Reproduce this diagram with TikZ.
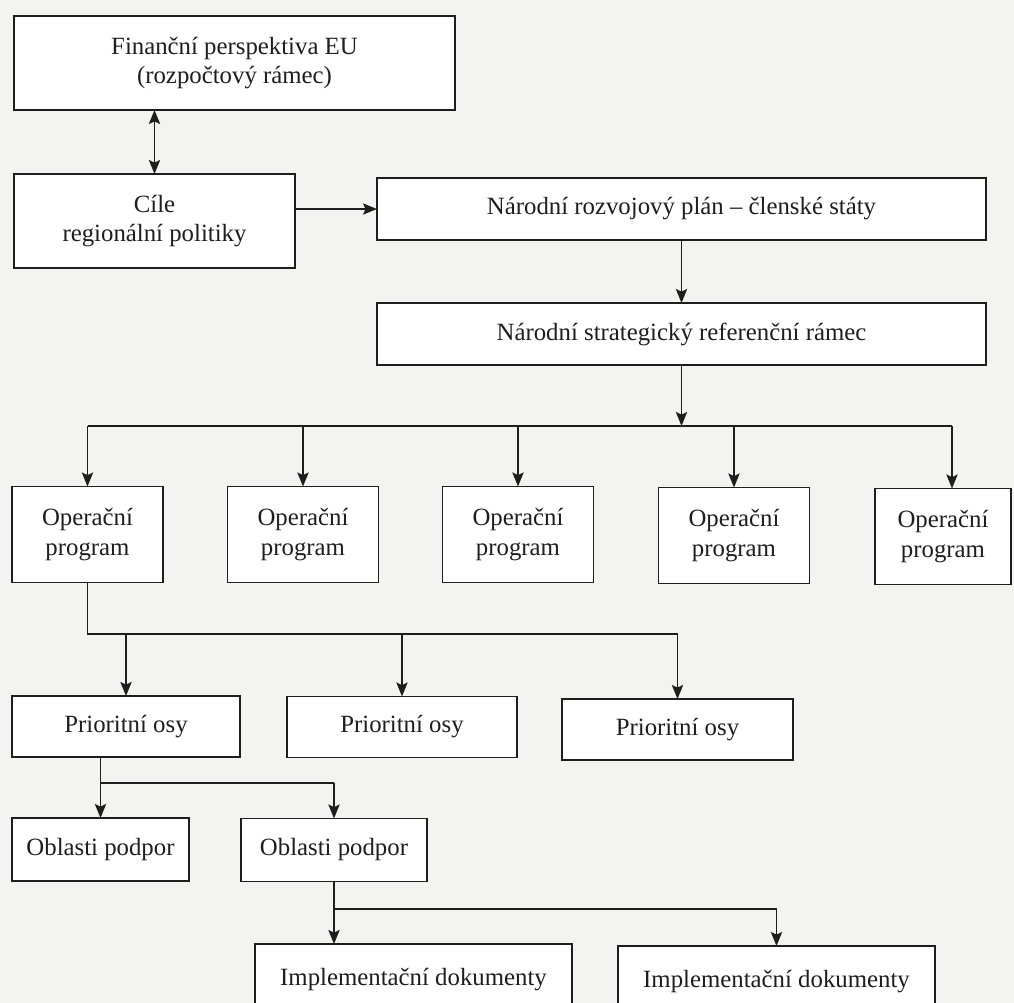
\documentclass[tikz,border=0pt]{standalone}
\usepackage{fontspec}
\setmainfont{Liberation Serif}
\usetikzlibrary{arrows.meta}

\definecolor{ink}{HTML}{1E1E1E}
\definecolor{paper}{HTML}{F3F3F1}

\begin{document}
\begin{tikzpicture}[x=0.5pt,y=-0.5pt,
		wh/.style 2 args={minimum width=#1*0.5pt, minimum height=#2*0.5pt}]
		\tikzstyle {box} = [draw=ink, fill=white, line width=0.95pt, inner sep=0pt, outer sep=0pt,
			align=center, text=ink, font=\fontsize{12.4}{14.8}\selectfont]
		\tikzstyle {link} = [draw=ink, line width=0.95pt, >={Stealth[length=7pt,width=5.6pt,inset=1.3pt]}]

		% page
		\fill[paper] (0,0) rectangle (1014,1003);
		\useasboundingbox (0,0) rectangle (1014,1003);
		\clip (0,0) rectangle (1014,1003);

		% EU level
		\node[box, wh={441}{94}] (fin) at (234.5,63) {Finanční perspektiva EU\\(rozpočtový rámec)};
		\node[box, wh={281}{94}] (cile) at (154.5,221) {Cíle\\regionální politiky};

		% national level
		\node[box, wh={609}{62}] (nrp) at (681.5,209) {Národní rozvojový plán – členské státy};
		\node[box, wh={609}{62}] (nsrr) at (681.5,334) {Národní strategický referenční rámec};

		% operational programmes
		\node[box, wh={151}{96}] (op1) at (87.5,534.5) {Operační\\program};
		\node[box, wh={151}{96}] (op2) at (303,534.5) {Operační\\program};
		\node[box, wh={151}{96}] (op3) at (518,534.5) {Operační\\program};
		\node[box, wh={151}{96}] (op4) at (734,535.5) {Operační\\program};
		\node[box, wh={136}{96}] (op5) at (943,536.5) {Operační\\program};

		% priority axes
		\node[box, wh={228}{61}] (po1) at (126,726.5) {Prioritní osy};
		\node[box, wh={230}{61}] (po2) at (402,727) {Prioritní osy};
		\node[box, wh={231}{61}] (po3) at (677.5,729.5) {Prioritní osy};

		% support areas
		\node[box, wh={177}{63}] (ob1) at (100.5,849.5) {Oblasti podpor};
		\node[box, wh={186}{63}] (ob2) at (334,850) {Oblasti podpor};

		% implementation documents
		\node[box, wh={317}{72}] (im1) at (413.5,980) {Implementační dokumenty};
		\node[box, wh={317}{72}] (im2) at (776.5,982) {Implementační dokumenty};

		\draw[link, <->] (cile.north) -- (cile.north |- fin.south);
		\draw[link, ->] (cile.east |- nrp.west) -- (nrp.west);
		\draw[link, ->] (nrp.south) -- (nsrr.north);

		\coordinate (bus1) at (681.5,426);
		\coordinate (bus1r) at (952,426);
		\draw[link, ->] (nsrr.south) -- (bus1);
		\draw[link] (op1.north |- bus1) -- (bus1r);
		\draw[link, ->] (op1.north |- bus1) -- (op1.north);
		\draw[link, ->] (op2.north |- bus1) -- (op2.north);
		\draw[link, ->] (op3.north |- bus1) -- (op3.north);
		\draw[link, ->] (op4.north |- bus1) -- (op4.north);
		\draw[link, ->] (bus1r) -- (bus1r |- op5.north);

		\coordinate (bus2) at (87.5,634);
		\draw[link] (op1.south) -- (bus2) -- (bus2 -| po3.north);
		\draw[link, ->] (bus2 -| po1.north) -- (po1.north);
		\draw[link, ->] (bus2 -| po2.north) -- (po2.north);
		\draw[link, ->] (bus2 -| po3.north) -- (po3.north);

		\coordinate (bus3) at (100.5,783);
		\draw[link] (bus3 |- po1.south) -- (bus3) -- (bus3 -| ob2.north);
		\draw[link, ->] (bus3) -- (ob1.north);
		\draw[link, ->] (bus3 -| ob2.north) -- (ob2.north);

		\coordinate (bus4) at (334,909);
		\draw[link] (ob2.south) -- (bus4) -- (bus4 -| im2.north);
		\draw[link, ->] (bus4) -- (bus4 |- im1.north);
		\draw[link, ->] (bus4 -| im2.north) -- (im2.north);
\end{tikzpicture}
\end{document}
